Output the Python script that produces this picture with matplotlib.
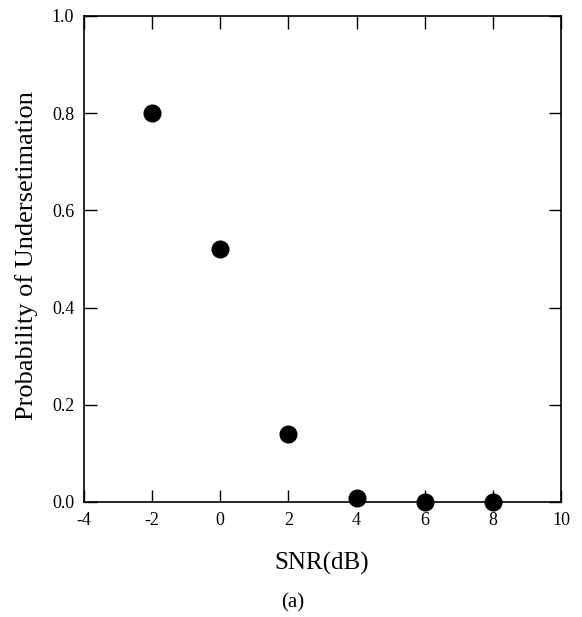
import matplotlib
matplotlib.use("Agg")
import matplotlib.pyplot as plt

# data
snr_db = [-2, 0, 2, 4, 6, 8]
prob_under = [0.80, 0.52, 0.14, 0.008, 0.0, 0.0]

x_ticks = [-4, -2, 0, 2, 4, 6, 8, 10]
y_ticks = [0.0, 0.2, 0.4, 0.6, 0.8, 1.0]

plt.rcParams['font.family'] = ['Liberation Serif', 'DejaVu Serif']
plt.rcParams['axes.unicode_minus'] = False

fig = plt.figure(figsize=(5.82, 6.17), dpi=100)
ax = fig.add_axes([0.1443, 0.1864, 0.8196, 0.7877])

ax.plot(snr_db, prob_under, 'o', color='black', markersize=12, clip_on=False, zorder=5)

ax.set_xlim(-4, 10)
ax.set_ylim(0, 1.0)
ax.set_xticks(x_ticks)
ax.set_yticks(y_ticks)
ax.set_yticklabels(['%.1f' % v for v in y_ticks])
ax.tick_params(direction='in', length=9, width=1, top=True, right=True,
               labelsize=13, pad=7)
for s in ax.spines.values():
    s.set_linewidth(1.2)

fig.text(0.046, 0.585, 'Probability of Undersetimation', rotation=90,
         ha='center', va='center', fontsize=19)
fig.text(0.553, 0.0875, 'SNR(dB)', ha='center', va='center', fontsize=18)
fig.text(0.503, 0.023, '(a)', ha='center', va='center', fontsize=15)

fig.savefig('out.png', dpi=100)
